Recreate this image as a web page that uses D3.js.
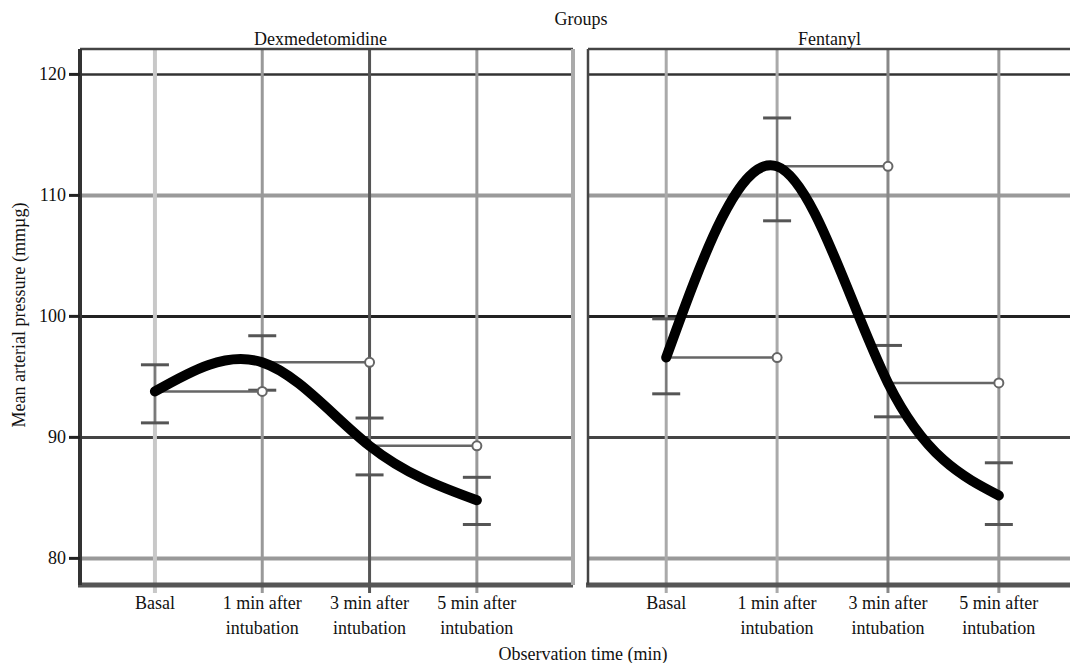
<html>
<head>
<script src="https://cdn.jsdelivr.net/npm/d3@7"></script>
<style>
  body { margin: 0; background: #fff; }
  text { font-family: "Liberation Serif", "Times New Roman", serif; fill: #111; }
</style>
</head>
<body>
<script>
// data
var categories = ["Basal", "1 min after intubation", "3 min after intubation", "5 min after intubation"];
var groups = ["Dexmedetomidine", "Fentanyl"];
var dexMean  = [93.8, 96.2, 89.3, 84.8];
var dexUpper = [96.0, 98.4, 91.6, 86.7];
var dexLower = [91.2, 93.9, 86.9, 82.8];
var fenMean  = [96.6, 112.4, 94.5, 85.2];
var fenUpper = [99.8, 116.4, 97.6, 87.9];
var fenLower = [93.6, 107.9, 91.7, 82.8];
var yTicks = [80, 90, 100, 110, 120];

var W = 1070, H = 663;
var plotTop = 49, plotBottom = 585;
var fs = 18;
// panel frames; pad = where first/last category sit, as share of panel width
var panels = [
  {name: groups[0], x0: 80,  x1: 573,  pad: [0.152, 0.805], mean: dexMean, up: dexUpper, lo: dexLower},
  {name: groups[1], x0: 588, x1: 1083, pad: [0.158, 0.830], mean: fenMean, up: fenUpper, lo: fenLower}
];

var svg = d3.select("body").append("svg")
  .attr("width", W).attr("height", H);

var y = d3.scaleLinear().domain([77.8, 122.1]).range([plotBottom, plotTop]);

// styles for the scanned-looking grid
var hStyle = {80: ["#999", 4], 90: ["#444", 3], 100: ["#222", 3], 110: ["#9a9a9a", 4], 120: ["#333", 2.5]};
var vStyle = [
  [["#c8c8c8", 4], ["#999", 3], ["#555", 3], ["#999", 3]],
  [["#aaa", 3], ["#aaa", 3], ["#888", 3], ["#999", 3]]
];

panels.forEach(function(p, pi) {
  var w = p.x1 - p.x0;
  var x = d3.scalePoint().domain(categories).range([p.x0 + p.pad[0] * w, p.x0 + p.pad[1] * w]);
  var g = svg.append("g");

  // horizontal grid
  g.selectAll(".hg").data(yTicks).enter().append("line")
    .attr("x1", p.x0).attr("x2", p.x1)
    .attr("y1", function(d) { return y(d); }).attr("y2", function(d) { return y(d); })
    .attr("stroke", function(d) { return hStyle[d][0]; })
    .attr("stroke-width", function(d) { return hStyle[d][1]; });

  // vertical grid (extends below frame as tick)
  g.selectAll(".vg").data(categories).enter().append("line")
    .attr("x1", function(d) { return x(d); }).attr("x2", function(d) { return x(d); })
    .attr("y1", plotTop).attr("y2", plotBottom + 8)
    .attr("stroke", function(d, i) { return vStyle[pi][i][0]; })
    .attr("stroke-width", function(d, i) { return vStyle[pi][i][1]; });

  // frame
  g.append("line").attr("x1", p.x0).attr("x2", p.x1).attr("y1", plotTop).attr("y2", plotTop)
    .attr("stroke", "#444").attr("stroke-width", 2.5);
  g.append("line").attr("x1", p.x0 - 2).attr("x2", p.x1).attr("y1", plotBottom).attr("y2", plotBottom)
    .attr("stroke", "#555").attr("stroke-width", 5);
  g.append("line").attr("x1", p.x0).attr("x2", p.x0).attr("y1", plotTop).attr("y2", plotBottom)
    .attr("stroke", pi == 0 ? "#333" : "#444").attr("stroke-width", pi == 0 ? 4 : 2.5);
  if (pi == 0) {
    g.append("line").attr("x1", p.x1).attr("x2", p.x1).attr("y1", plotTop).attr("y2", plotBottom)
      .attr("stroke", "#aaa").attr("stroke-width", 4);
  }

  // error bars
  categories.forEach(function(c, i) {
    g.append("line").attr("x1", x(c)).attr("x2", x(c))
      .attr("y1", y(p.up[i])).attr("y2", y(p.lo[i]))
      .attr("stroke", "#777").attr("stroke-width", 2);
    [p.up[i], p.lo[i]].forEach(function(v) {
      g.append("line").attr("x1", x(c) - 14).attr("x2", x(c) + 14)
        .attr("y1", y(v)).attr("y2", y(v))
        .attr("stroke", "#555").attr("stroke-width", 3);
    });
  });

  // connector to next point at previous value
  for (var i = 1; i < categories.length; i++) {
    g.append("line")
      .attr("x1", x(categories[i - 1])).attr("x2", x(categories[i]))
      .attr("y1", y(p.mean[i - 1])).attr("y2", y(p.mean[i - 1]))
      .attr("stroke", "#666").attr("stroke-width", 2.5);
    g.append("circle")
      .attr("cx", x(categories[i])).attr("cy", y(p.mean[i - 1])).attr("r", 4.5)
      .attr("fill", "#fff").attr("stroke", "#666").attr("stroke-width", 2);
  }

  // mean curve
  var line = d3.line()
    .x(function(d, i) { return x(categories[i]); })
    .y(function(d) { return y(d); })
    .curve(d3.curveNatural);
  g.append("path").datum(p.mean)
    .attr("d", line)
    .attr("fill", "none").attr("stroke", "#000")
    .attr("stroke-width", 10).attr("stroke-linecap", "round");

  // x tick labels
  categories.forEach(function(c) {
    var words = c.split(" ");
    var lines = words.length > 1 ? [words.slice(0, 3).join(" "), words.slice(3).join(" ")] : [c];
    var t = g.append("text").attr("text-anchor", "middle").attr("font-size", fs);
    lines.forEach(function(l, k) {
      t.append("tspan").attr("x", x(c)).attr("y", 609 + k * 25).text(l);
    });
  });

  // panel title
  g.append("text").attr("x", (p.x0 + p.x1) / 2 - 6).attr("y", 45)
    .attr("text-anchor", "middle").attr("font-size", fs).text(p.name);
});

// y axis ticks and labels
var ya = svg.append("g");
ya.selectAll(".yt").data(yTicks).enter().append("line")
  .attr("x1", 69).attr("x2", 80)
  .attr("y1", function(d) { return y(d); }).attr("y2", function(d) { return y(d); })
  .attr("stroke", "#222").attr("stroke-width", 3);
ya.selectAll(".yl").data(yTicks).enter().append("text")
  .attr("x", 66).attr("y", function(d) { return y(d) + 6; })
  .attr("text-anchor", "end").attr("font-size", fs).text(function(d) { return d; });

svg.append("text").attr("transform", "translate(25,315) rotate(-90)")
  .attr("text-anchor", "middle").attr("font-size", fs)
  .text("Mean arterial pressure (mmµg)");

svg.append("text").attr("x", 581).attr("y", 25)
  .attr("text-anchor", "middle").attr("font-size", fs).text("Groups");

svg.append("text").attr("x", 583).attr("y", 660)
  .attr("text-anchor", "middle").attr("font-size", fs).text("Observation time (min)");
</script>
</body>
</html>
